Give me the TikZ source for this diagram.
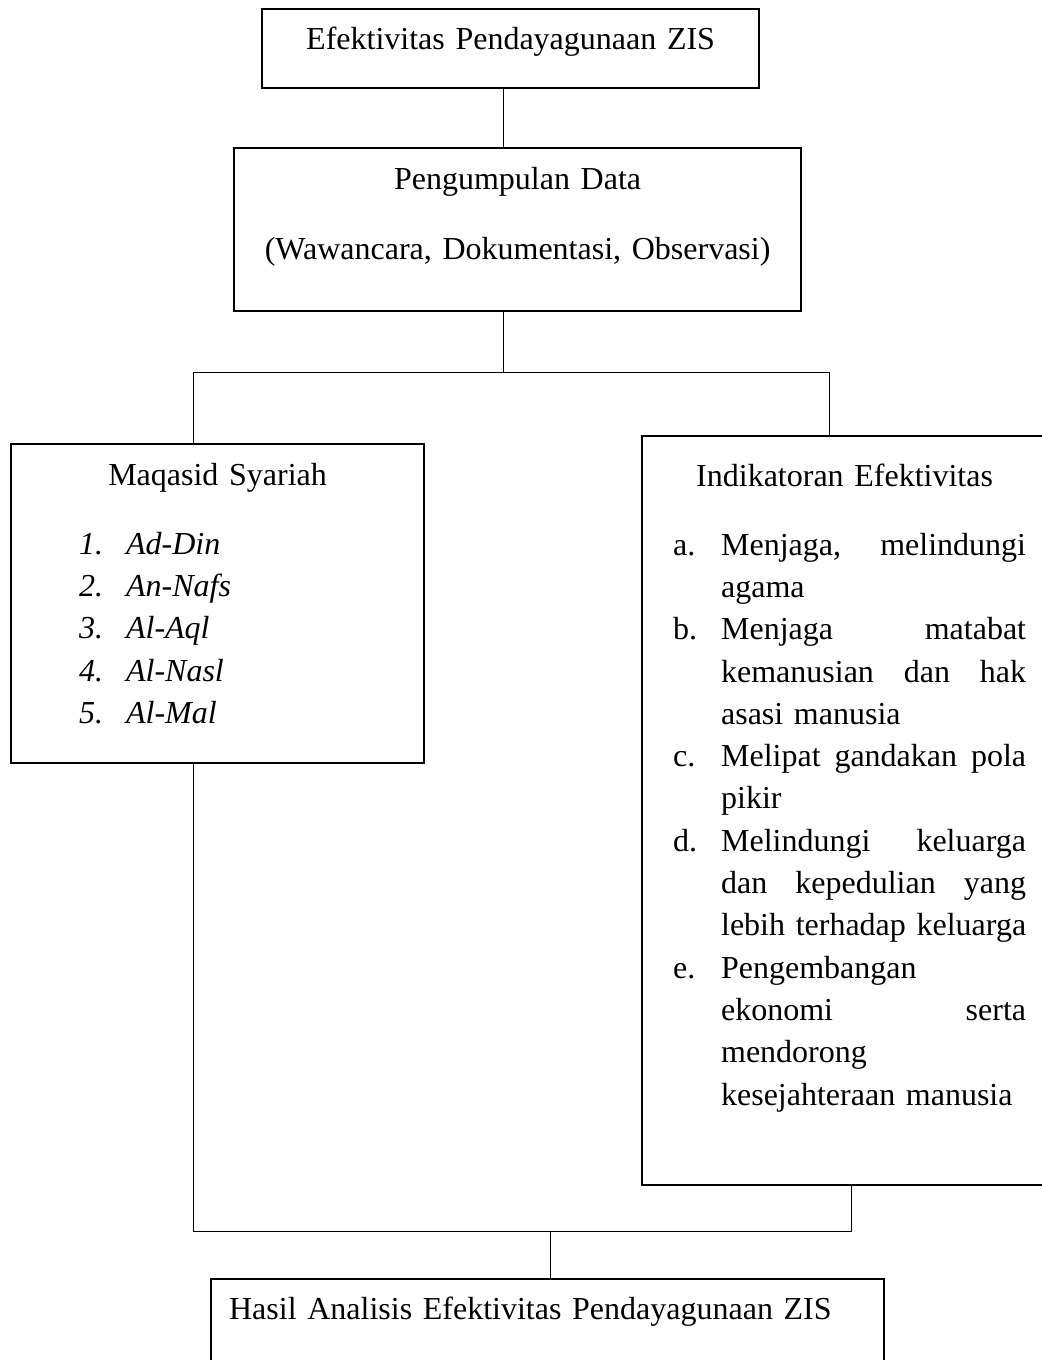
\documentclass[tikz,border=0pt]{standalone}
\usepackage{fontspec}
\setmainfont{Liberation Serif}
\usepackage{tikz}

\begin{document}
\begin{tikzpicture}[
        x=0.5pt, y=-0.5pt,
        block/.style={rectangle, draw, line width=1.1pt, inner sep=0pt, anchor=north west, font=\fontsize{16}{21.15}\selectfont},
        line/.style={draw, line width=0.5pt}
    ]
        \useasboundingbox (0,0) rectangle (1041,1360);

        \node [block, align=center, text width=248.5pt, text height=20pt, text depth=19.5pt] (zis) at (261,8) {Efektivitas Pendayagunaan ZIS};
        \node [block, align=center, text width=283.5pt, text height=20.5pt, text depth=61pt] (data) at (233,147) {Pengumpulan Data\\[13.85pt](Wawancara, Dokumentasi, Observasi)};
        \node [block, text width=206.5pt, text height=20.5pt, text depth=139pt] (maqasid) at (10,443) {%
            {\centering Maqasid Syariah\par}\vspace{13.35pt}
            {\leftskip=34pt\itshape
            \makebox[23.5pt][l]{1.}Ad-Din\par
            \makebox[23.5pt][l]{2.}An-Nafs\par
            \makebox[23.5pt][l]{3.}Al-Aql\par
            \makebox[23.5pt][l]{4.}Al-Nasl\par
            \makebox[23.5pt][l]{5.}Al-Mal\par}};
        \node [block, text width=202.5pt, text height=25pt, text depth=349.5pt] (indikator) at (641,435) {%
            {\centering Indikatoran Efektivitas\par}\vspace{13.35pt}
            {\leftskip=15.5pt\rightskip=10.5pt\hyphenpenalty=10000\hbadness=10000\hfuzz=5pt
            \hangindent=24pt\hangafter=1\makebox[24pt][l]{a.}Menjaga,\hfill melindungi\newline agama\par
            \hangindent=24pt\hangafter=1\makebox[24pt][l]{b.}Menjaga\hfill matabat\newline kemanusian\hfill dan\hfill hak\newline asasi manusia\par
            \hangindent=24pt\hangafter=1\makebox[24pt][l]{c.}Melipat\hfill gandakan\hfill pola\newline pikir\par
            \hangindent=24pt\hangafter=1\makebox[24pt][l]{d.}Melindungi\hfill keluarga\newline dan\hfill kepedulian\hfill yang\newline \mbox{lebih terhadap keluarga}\par
            \hangindent=24pt\hangafter=1\makebox[24pt][l]{e.}Pengembangan\newline ekonomi\hfill serta\newline mendorong\newline kesejahteraan manusia\par}};
        \node [block, align=left, text width=336.5pt, text height=20pt, text depth=41pt] (hasil) at (210,1278) {\hspace*{9pt}Hasil Analisis Efektivitas Pendayagunaan ZIS};

        % connector columns
        \coordinate (trunk) at (503,0);
        \coordinate (lcol) at (193,0);
        \coordinate (rcol) at (829,0);
        \coordinate (rjoin) at (851,0);
        \coordinate (split) at (503,372);
        \coordinate (join) at (550,1231);

        \path [line] (zis.south -| trunk) -- (data.north -| trunk);
        \path [line] (data.south -| trunk) -- (split);
        \path [line] (split) -| (maqasid.north -| lcol);
        \path [line] (split) -| (indikator.north -| rcol);
        \path [line] (maqasid.south -| lcol) |- (join) -| (indikator.south -| rjoin);
        \path [line] (join) -- (hasil.north -| join);
    \end{tikzpicture}
\end{document}
